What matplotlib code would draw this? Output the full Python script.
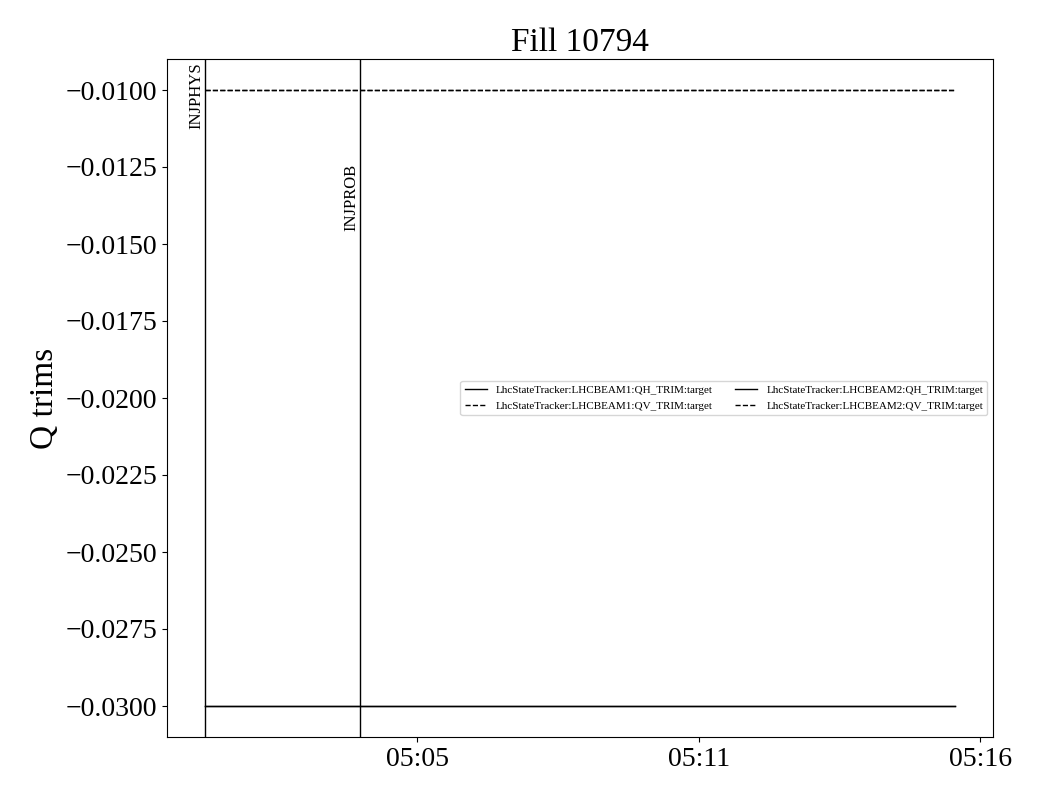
import matplotlib
matplotlib.use("Agg")
import matplotlib.pyplot as plt
import matplotlib.dates as mdates
import matplotlib.transforms as mtransforms
import matplotlib.ticker as mticker
from datetime import datetime

plt.rcParams['font.family'] = ['Liberation Serif', 'DejaVu Serif']
plt.rcParams['axes.unicode_minus'] = True

title = "Fill 10794"
ylabel = "Q trims"

times_beam1 = [datetime(2025, 6, 20, 5, 1, 21), datetime(2025, 6, 20, 5, 16, 1)]
times_beam2 = [datetime(2025, 6, 20, 5, 1, 22), datetime(2025, 6, 20, 5, 16, 0)]
series_names = [
    "LhcStateTracker:LHCBEAM1:QH_TRIM:target",
    "LhcStateTracker:LHCBEAM1:QV_TRIM:target",
    "LhcStateTracker:LHCBEAM2:QH_TRIM:target",
    "LhcStateTracker:LHCBEAM2:QV_TRIM:target",
]
series_times = [times_beam1, times_beam1, times_beam2, times_beam2]
series_values = [
    [-0.03, -0.03],
    [-0.01, -0.01],
    [-0.03, -0.03],
    [-0.01, -0.01],
]
series_styles = ['-', '--', '-', '--']

events = ["INJPHYS", "INJPROB"]
event_times = [datetime(2025, 6, 20, 5, 1, 21), datetime(2025, 6, 20, 5, 4, 23)]
event_label_y = [0.995, 0.845]

xtick_times = [datetime(2025, 6, 20, 5, 5, 30), datetime(2025, 6, 20, 5, 11, 0),
               datetime(2025, 6, 20, 5, 16, 30)]

fig = plt.figure(figsize=(10.4, 8), dpi=100)
ax = fig.add_axes([0.1606, 0.079, 0.7942, 0.847])

for name, tt, vals, ls in zip(series_names, series_times, series_values, series_styles):
    ax.plot(tt, vals, color='black', linestyle=ls, linewidth=1, label=name)

trans = mtransforms.blended_transform_factory(ax.transData, ax.transAxes)
for ev, t, yy in zip(events, event_times, event_label_y):
    ax.axvline(t, color='black', linewidth=1)
    ax.text(mdates.date2num(t), yy, ev, rotation=90, va='top', ha='right',
            fontsize=12, transform=trans)

ax.set_xticks([mdates.date2num(t) for t in xtick_times])
ax.xaxis.set_major_formatter(mdates.DateFormatter('%H:%M'))
ax.yaxis.set_major_locator(mticker.MultipleLocator(0.0025))
ax.yaxis.set_major_formatter(mticker.FuncFormatter(
    lambda v, p: ("%.4f" % v).replace('-', '\u2212')))
ax.tick_params(labelsize=20)

ax.set_title(title, fontsize=24)
ax.set_ylabel(ylabel, fontsize=24)
ax.legend(loc='center right', ncol=2, fontsize=8)

fig.savefig("out.png", dpi=100)
